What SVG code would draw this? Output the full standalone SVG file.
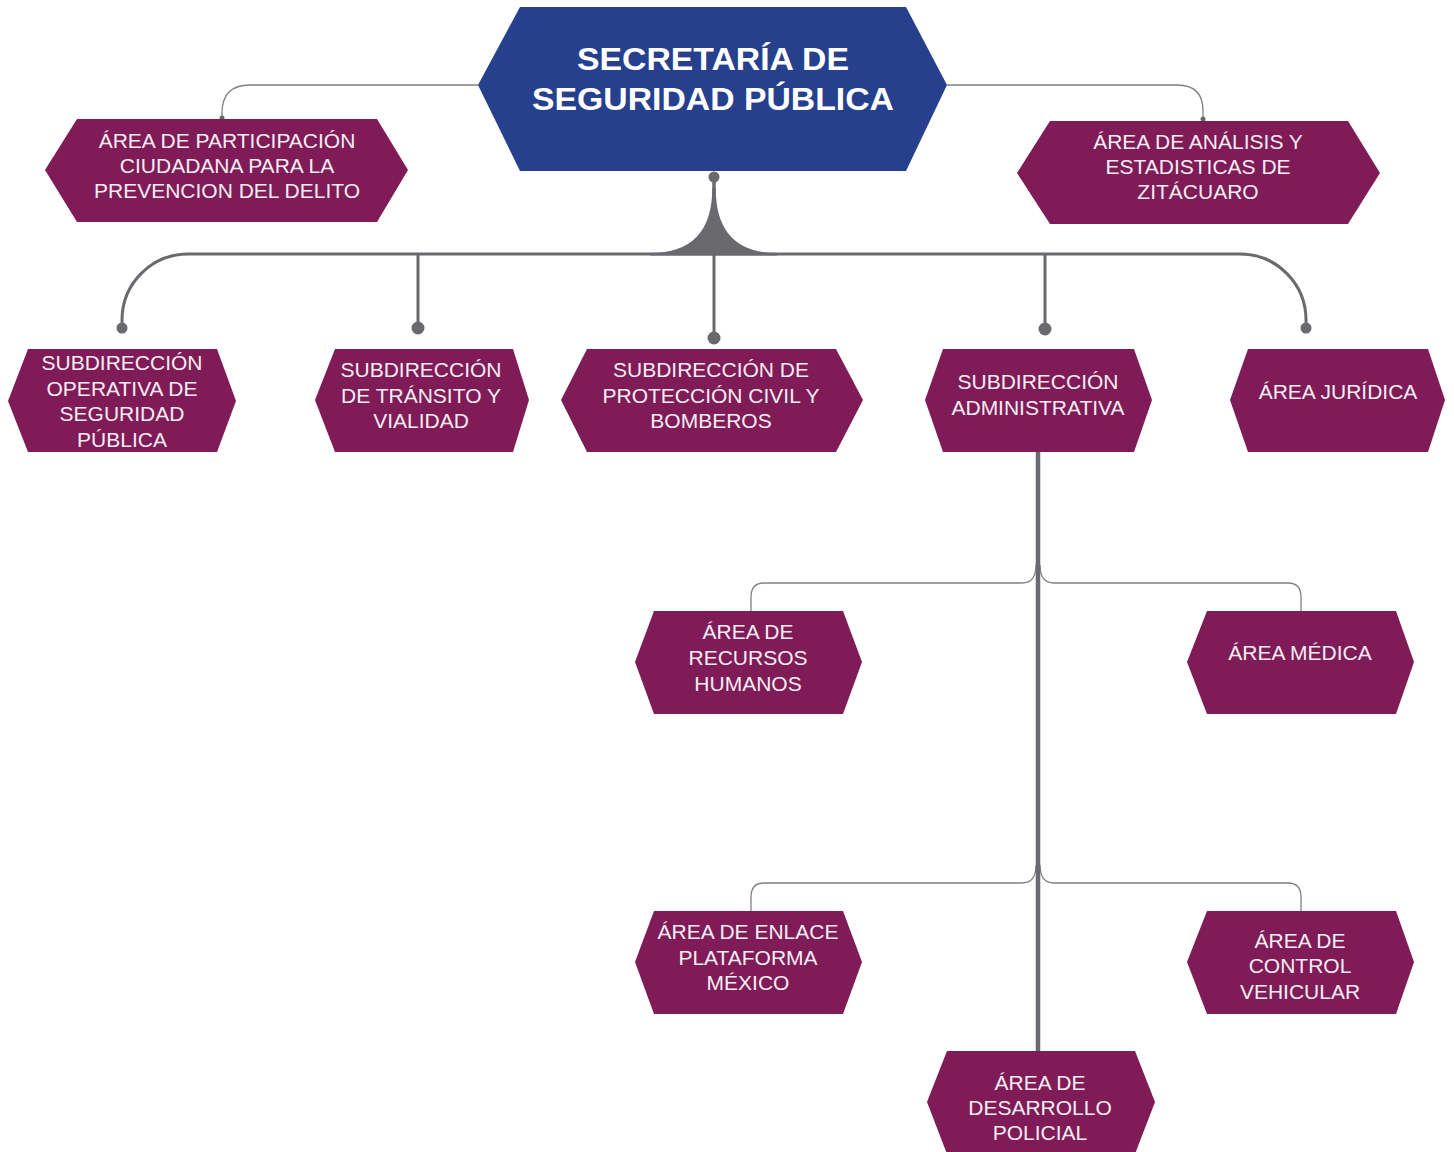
<svg xmlns="http://www.w3.org/2000/svg" width="1454" height="1152" viewBox="0 0 1454 1152">
<style>
.hx{fill:#7F1B57}
.top{fill:#26408E}
.t{font-family:"Liberation Sans",Arial,sans-serif;font-size:21px;fill:#F7EDF3;text-anchor:middle}
.tt{font-family:"Liberation Sans",Arial,sans-serif;font-size:32px;font-weight:bold;fill:#FFFFFF;text-anchor:middle}
.thick{fill:none;stroke:#6A696E;stroke-width:3}
.trunk{fill:none;stroke:#6A696E;stroke-width:4.5}
.thin{fill:none;stroke:#808080;stroke-width:1.3}
.dot{fill:#6A696E}
</style>
<rect width="1454" height="1152" fill="#FFFFFF"/>
<g id="connectors">
<path class="thin" d="M478,85 H250 Q222,85 222,113 V118"/>
<circle class="dot" cx="222" cy="118" r="2.5"/>
<path class="thin" d="M947,85 H1177 Q1203,85 1203,111 V119"/>
<circle class="dot" cx="1203" cy="119" r="2.5"/>
<line x1="714" y1="177" x2="714" y2="200" stroke="#6A696E" stroke-width="3.5"/>
<path class="dot" d="M712.3,188 Q712.3,253 650,253 L650,255.5 L777,255.5 L777,253 Q715.7,253 715.7,188 Z"/>
<circle class="dot" cx="714" cy="177" r="5.5"/>
<path class="thick" d="M122,328 V320 A66,66 0 0 1 188,254 H1240 A66,66 0 0 1 1306,320 V328"/>
<line class="thick" x1="418" y1="254" x2="418" y2="328"/>
<line class="thick" x1="714" y1="254" x2="714" y2="338"/>
<line class="thick" x1="1045" y1="254" x2="1045" y2="329"/>
<circle class="dot" cx="122" cy="328" r="5.5"/>
<circle class="dot" cx="418" cy="328" r="6.5"/>
<circle class="dot" cx="714" cy="338" r="6.5"/>
<circle class="dot" cx="1045" cy="329" r="6.5"/>
<circle class="dot" cx="1306" cy="328" r="5.5"/>
<path class="thin" d="M1036,565 Q1036,583 1022,583 H764 Q751,583 751,597 V611"/>
<path class="thin" d="M1040,565 Q1040,583 1054,583 H1288 Q1301,583 1301,597 V611"/>
<path class="thin" d="M1036,865 Q1036,883 1022,883 H764 Q751,883 751,897 V911"/>
<path class="thin" d="M1040,865 Q1040,883 1054,883 H1288 Q1301,883 1301,897 V911"/>
<line class="trunk" x1="1038" y1="452" x2="1038" y2="1052"/>
</g>
<g id="n-secretaria">
<polygon class="top" points="478,85 520,7 906,7 947,85 906,171 520,171"/>
<text class="tt" x="713" y="70" textLength="272" lengthAdjust="spacingAndGlyphs">SECRETARÍA DE</text>
<text class="tt" x="713" y="110" textLength="362" lengthAdjust="spacingAndGlyphs">SEGURIDAD PÚBLICA</text>
</g>
<g id="n-participacion">
<polygon class="hx" points="45,170 77,119 377,119 408,170 377,222 77,222"/>
<text class="t" x="227" y="148">ÁREA DE PARTICIPACIÓN</text>
<text class="t" x="227" y="173">CIUDADANA PARA LA</text>
<text class="t" x="227" y="198">PREVENCION DEL DELITO</text>
</g>
<g id="n-analisis">
<polygon class="hx" points="1017,173 1050,121 1348,121 1380,173 1348,224 1050,224"/>
<text class="t" x="1198" y="149">ÁREA DE ANÁLISIS Y</text>
<text class="t" x="1198" y="174">ESTADISTICAS DE</text>
<text class="t" x="1198" y="199">ZITÁCUARO</text>
</g>
<g id="n-operativa">
<polygon class="hx" points="8,401 28,349 217,349 236,401 217,452 28,452"/>
<text class="t" x="122" y="370">SUBDIRECCIÓN</text>
<text class="t" x="122" y="395.5">OPERATIVA DE</text>
<text class="t" x="122" y="421">SEGURIDAD</text>
<text class="t" x="122" y="446.5">PÚBLICA</text>
</g>
<g id="n-transito">
<polygon class="hx" points="315,400 335,349 513,349 529,400 513,452 335,452"/>
<text class="t" x="421" y="377">SUBDIRECCIÓN</text>
<text class="t" x="421" y="402.5">DE TRÁNSITO Y</text>
<text class="t" x="421" y="428">VIALIDAD</text>
</g>
<g id="n-proteccion">
<polygon class="hx" points="561,400 587,349 836,349 863,400 836,452 587,452"/>
<text class="t" x="711" y="377">SUBDIRECCIÓN DE</text>
<text class="t" x="711" y="402.5">PROTECCIÓN CIVIL Y</text>
<text class="t" x="711" y="428">BOMBEROS</text>
</g>
<g id="n-administrativa">
<polygon class="hx" points="925,400 943,349 1134,349 1152,400 1134,452 943,452"/>
<text class="t" x="1038" y="389">SUBDIRECCIÓN</text>
<text class="t" x="1038" y="415">ADMINISTRATIVA</text>
</g>
<g id="n-juridica">
<polygon class="hx" points="1230,400 1248,349 1428,349 1445,400 1428,452 1248,452"/>
<text class="t" x="1338" y="399">ÁREA JURÍDICA</text>
</g>
<g id="n-rrhh">
<polygon class="hx" points="635,662 654,611 843,611 862,662 843,714 654,714"/>
<text class="t" x="748" y="639">ÁREA DE</text>
<text class="t" x="748" y="665">RECURSOS</text>
<text class="t" x="748" y="690.5">HUMANOS</text>
</g>
<g id="n-medica">
<polygon class="hx" points="1187,662 1207,611 1396,611 1414,662 1396,714 1207,714"/>
<text class="t" x="1300" y="660">ÁREA MÉDICA</text>
</g>
<g id="n-enlace">
<polygon class="hx" points="635,962 654,911 843,911 862,962 843,1014 654,1014"/>
<text class="t" x="748" y="939">ÁREA DE ENLACE</text>
<text class="t" x="748" y="965">PLATAFORMA</text>
<text class="t" x="748" y="990">MÉXICO</text>
</g>
<g id="n-vehicular">
<polygon class="hx" points="1187,962 1207,911 1396,911 1414,962 1396,1014 1207,1014"/>
<text class="t" x="1300" y="948">ÁREA DE</text>
<text class="t" x="1300" y="973">CONTROL</text>
<text class="t" x="1300" y="999">VEHICULAR</text>
</g>
<g id="n-desarrollo">
<polygon class="hx" points="927,1102 947,1051 1135,1051 1155,1102 1135,1154 947,1154"/>
<text class="t" x="1040" y="1090">ÁREA DE</text>
<text class="t" x="1040" y="1115">DESARROLLO</text>
<text class="t" x="1040" y="1140">POLICIAL</text>
</g>
</svg>
